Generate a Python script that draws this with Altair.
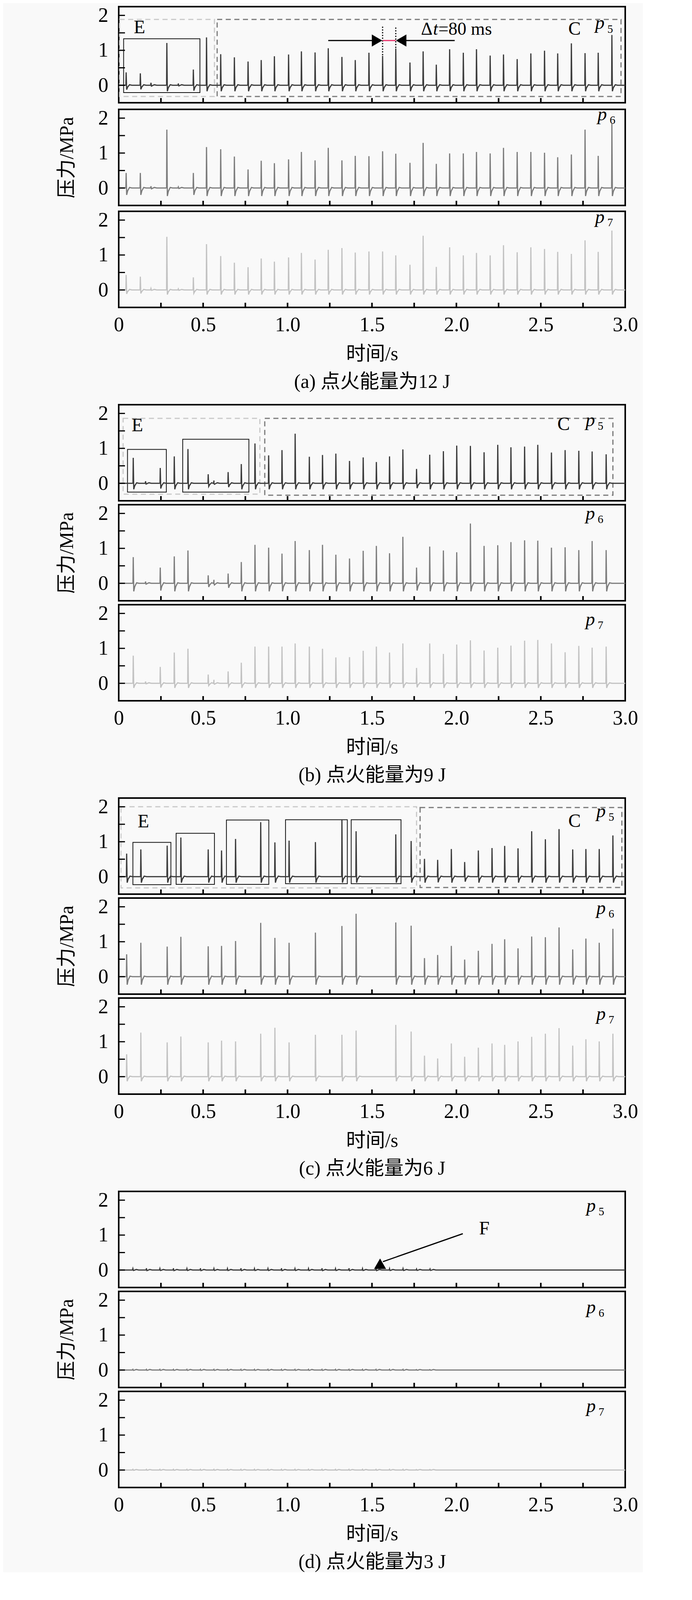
import altair as alt
import pandas as pd

FONT = "Liberation Serif, Noto Sans CJK SC"
W, H = 1297, 246
XS = alt.Scale(domain=[0, 3], nice=False, zero=False)
YS = alt.Scale(domain=[-0.5, 2.25], nice=False, zero=False)

XLAB = [0, 0.5, 1.0, 1.5, 2.0, 2.5, 3.0]
XTICKS = [0.25, 0.5, 0.75, 1.0, 1.25, 1.5, 1.75, 2.0, 2.25, 2.5, 2.75]
YTICKS = [0, 0.5, 1, 1.5, 2]
YLAB = [0, 1, 2]

# ---------------- data: spike times (s) and peak pressures (MPa) ----------------
A_T = [0.044, 0.128, 0.191, 0.285, 0.353, 0.442, 0.520, 0.604, 0.685, 0.766, 0.844, 0.922,
       1.006, 1.082, 1.163, 1.241, 1.322, 1.401, 1.482, 1.563, 1.641, 1.725, 1.803, 1.881,
       1.960, 2.041, 2.119, 2.200, 2.279, 2.360, 2.441, 2.522, 2.600, 2.681, 2.762, 2.840, 2.921]
A_P5 = [0.37, 0.34, 0.07, 1.21, 0.05, 0.45, 1.37, 0.89, 0.80, 0.68, 0.72, 0.83,
        0.88, 0.97, 0.94, 1.06, 0.81, 0.72, 0.93, 0.84, 1.05, 0.65, 0.97, 0.59,
        1.03, 0.93, 1.03, 0.85, 0.88, 0.75, 0.91, 0.99, 0.91, 1.20, 0.92, 0.93, 1.44]
A_P6 = [0.43, 0.43, 0.05, 1.67, 0.03, 0.43, 1.17, 1.11, 0.90, 0.53, 0.78, 0.71,
        0.82, 1.03, 0.79, 1.15, 0.79, 0.92, 0.91, 1.05, 0.98, 0.72, 1.29, 0.69,
        0.99, 0.99, 1.03, 0.99, 1.15, 1.03, 1.03, 1.01, 0.88, 0.96, 1.67, 0.92, 1.84]
A_P7 = [0.43, 0.38, 0.04, 1.52, 0.03, 0.36, 1.31, 0.97, 0.78, 0.65, 0.90, 0.81,
        0.93, 1.06, 0.87, 1.15, 1.20, 1.07, 1.10, 1.10, 0.99, 0.72, 1.55, 0.66,
        1.22, 0.99, 1.06, 0.99, 1.28, 1.08, 1.22, 1.17, 1.09, 1.03, 1.42, 1.09, 1.70]

B_T = [0.086, 0.159, 0.246, 0.329, 0.410, 0.530, 0.564, 0.648, 0.726, 0.807, 0.888, 0.967,
       1.045, 1.129, 1.207, 1.286, 1.367, 1.448, 1.526, 1.604, 1.683, 1.764, 1.842, 1.923,
       2.002, 2.083, 2.164, 2.245, 2.323, 2.404, 2.482, 2.563, 2.644, 2.725, 2.804, 2.887]
B_P5 = [0.73, 0.06, 0.44, 0.77, 0.98, 0.26, 0.08, 0.32, 0.55, 1.14, 0.80, 0.95,
        1.42, 0.76, 0.81, 0.85, 0.64, 0.74, 0.61, 0.77, 0.97, 0.41, 0.82, 0.92,
        1.08, 1.07, 0.89, 1.10, 1.03, 1.05, 1.10, 0.88, 0.95, 0.93, 0.91, 0.83]
B_P6 = [0.75, 0.05, 0.45, 0.77, 0.94, 0.23, 0.10, 0.28, 0.61, 1.10, 1.02, 0.85,
        1.21, 0.95, 1.10, 0.82, 0.71, 0.93, 1.07, 0.86, 1.33, 0.45, 1.05, 0.94,
        0.89, 1.71, 1.07, 1.09, 1.18, 1.23, 1.22, 1.02, 1.03, 0.95, 1.21, 0.95]
B_P7 = [0.79, 0.05, 0.47, 0.88, 0.99, 0.25, 0.10, 0.34, 0.59, 1.05, 1.05, 1.05,
        1.14, 1.05, 0.99, 0.74, 0.75, 0.93, 1.05, 0.88, 1.14, 0.44, 1.14, 0.84,
        1.11, 1.23, 0.94, 1.02, 1.08, 1.22, 1.24, 1.14, 0.89, 1.07, 1.02, 1.05]

C_T = [0.047, 0.131, 0.287, 0.368, 0.530, 0.609, 0.692, 0.841, 0.925, 1.009, 1.165, 1.322,
       1.406, 1.641, 1.732, 1.811, 1.889, 1.970, 2.049, 2.130, 2.211, 2.286, 2.365, 2.446,
       2.527, 2.608, 2.689, 2.767, 2.846, 2.927]
C_P5 = [0.66, 0.78, 0.89, 1.12, 0.78, 0.75, 1.08, 1.56, 0.98, 1.03, 0.99, 1.64,
        1.30, 1.21, 1.02, 0.51, 0.48, 0.79, 0.42, 0.75, 0.82, 0.88, 0.81, 1.30,
        1.07, 1.36, 0.78, 0.79, 0.79, 1.18]
C_P6 = [0.64, 0.97, 0.86, 1.14, 0.87, 0.88, 1.02, 1.54, 1.11, 0.97, 1.26, 1.45,
        1.80, 1.55, 1.46, 0.53, 0.62, 0.88, 0.49, 0.74, 0.94, 1.07, 0.81, 1.15,
        1.13, 1.41, 0.78, 1.09, 0.97, 1.37]
C_P7 = [0.64, 1.26, 0.98, 1.15, 0.98, 1.03, 1.01, 1.23, 1.40, 0.98, 1.20, 1.20,
        1.32, 1.48, 1.29, 0.60, 0.52, 0.95, 0.57, 0.83, 0.95, 0.91, 1.01, 1.14,
        1.23, 1.39, 0.89, 1.07, 1.01, 1.23]

D_T = [0.084, 0.164, 0.244, 0.324, 0.404, 0.484, 0.564, 0.644, 0.724, 0.804, 0.884, 0.964,
       1.044, 1.124, 1.204, 1.284, 1.364, 1.444, 1.524, 1.604, 1.684, 1.764, 1.844]
D_P5 = [0.04, 0.05, 0.04, 0.05, 0.04, 0.05, 0.04, 0.04, 0.05, 0.04, 0.04, 0.05,
        0.04, 0.04, 0.05, 0.04, 0.05, 0.04, 0.05, 0.04, 0.04, 0.03, 0.03]
D_P6 = [0.02, 0.02, 0.02, 0.02, 0.02, 0.02, 0.02, 0.02, 0.02, 0.02, 0.02, 0.02,
        0.02, 0.02, 0.02, 0.02, 0.02, 0.02, 0.02, 0.02, 0.02, 0.01, 0.01]
D_P7 = [0.02, 0.02, 0.02, 0.02, 0.02, 0.02, 0.02, 0.02, 0.02, 0.02, 0.02, 0.02,
        0.02, 0.02, 0.02, 0.02, 0.02, 0.02, 0.02, 0.02, 0.02, 0.01, 0.01]

CAPTIONS = ["(a) 点火能量为12 J", "(b) 点火能量为9 J", "(c) 点火能量为6 J", "(d) 点火能量为3 J"]
SENSORS = ["5", "6", "7"]

# ---------------- styles / annotation positions ----------------
COLORS = ["#3a3a3a", "#7c7c7c", "#c2c2c2"]
UNDER = [0.17, 0.23, 0.13]
TICK_FS, TITLE_FS, ANN_FS = 52, 50, 48

P_LABEL = [  # (x of 'p', baseline of p, baseline of subscript) per panel
    [(2.822, 1.61, 1.50), (2.836, 1.94, 1.84), (2.822, 1.92, 1.82)],
    [(2.765, 1.63, 1.53), (2.765, 1.82, 1.72), (2.765, 1.66, 1.56)],
    [(2.829, 1.70, 1.60), (2.829, 1.79, 1.69), (2.829, 1.62, 1.52)],
    [(2.770, 1.67, 1.57), (2.770, 1.62, 1.52), (2.770, 1.66, 1.56)],
]
BOX_LIGHT = [[(0.005, 0.567, -0.32, 1.885)], [(0.026, 0.836, -0.31, 1.86)],
             [(0.013, 1.764, -0.32, 2.0)], []]
BOX_DARK = [[(0.583, 2.975, -0.32, 1.885)], [(0.865, 2.927, -0.34, 1.86)],
            [(1.785, 2.98, -0.31, 1.98)], []]
BOX_SOLID = [[(0.029, 0.481, -0.21, 1.33)],
             [(0.052, 0.282, -0.25, 0.97), (0.379, 0.771, -0.25, 1.26)],
             [(0.084, 0.309, -0.23, 0.98), (0.34, 0.567, -0.22, 1.24), (0.638, 0.889, -0.22, 1.62),
              (0.988, 1.354, -0.20, 1.63), (1.377, 1.672, -0.20, 1.63)],
             []]
LETTERS = [[(0.123, 1.65, "E"), (2.70, 1.60, "C")], [(0.11, 1.65, "E"), (2.635, 1.68, "C")],
           [(0.146, 1.57, "E"), (2.70, 1.58, "C")], []]


def wave(times, peaks, under):
    rows = [(0.0, 0.0)]
    for t, h in zip(times, peaks):
        u = under * min(1.0, h / 0.5)
        rows += [(t - 0.004, 0.0), (t - 0.0015, 0.012), (t, h), (t + 0.003, -u),
                 (t + 0.009, -0.4 * u), (t + 0.020, 0.015), (t + 0.034, 0.0)]
    rows.append((3.0, 0.0))
    df = pd.DataFrame(rows, columns=["t", "v"])
    return df.sort_values("t", kind="stable")


def make_panel(g, k, bottom):
    if bottom:
        xaxis = alt.Axis(values=XLAB, labelExpr="datum.value == 0 ? '0' : format(datum.value, '.1f')",
                         labelFont=FONT, labelFontSize=TICK_FS, labelPadding=19, labelFlush=False,
                         labelOverlap=False, labelColor="black", ticks=False, domain=False, grid=False,
                         title=["时间/s", CAPTIONS[g]], titleFont=FONT, titleFontSize=TITLE_FS,
                         titleFontWeight="normal", titleColor="black", titlePadding=24,
                         titleLineHeight=71)
        X = alt.X("t:Q", scale=XS, axis=xaxis)
    else:
        X = alt.X("t:Q", scale=XS, axis=None)
    yaxis = alt.Axis(values=YLAB, labelFont=FONT, labelFontSize=TICK_FS, labelPadding=27,
                     labelColor="black", ticks=False, domain=False, grid=False,
                     title="压力/MPa" if k == 1 else "", titleFont=FONT, titleFontSize=TITLE_FS,
                     titleFontWeight="normal", titleColor="black", titlePadding=55)
    Y = alt.Y("v:Q", scale=YS, axis=yaxis)

    times = [A_T, B_T, C_T, D_T][g]
    peaks = [[A_P5, A_P6, A_P7], [B_P5, B_P6, B_P7], [C_P5, C_P6, C_P7], [D_P5, D_P6, D_P7]][g][k]

    layers = []
    if k == 0:
        for boxes, col, sw, dash in [(BOX_LIGHT[g], "#c9c9c9", 3, [13, 9]),
                                     (BOX_DARK[g], "#7a7a7a", 3, [13, 9]),
                                     (BOX_SOLID[g], "#111111", 2, None)]:
            if not boxes:
                continue
            mk = dict(fillOpacity=0, stroke=col, strokeWidth=sw)
            if dash:
                mk["strokeDash"] = dash
            bdf = pd.DataFrame(boxes, columns=["t", "t2", "v", "v2"])
            layers.append(alt.Chart(bdf).mark_rect(**mk).encode(
                x=X, x2=alt.X2("t2:Q"), y=Y, y2=alt.Y2("v2:Q")))

    layers.append(alt.Chart(wave(times, peaks, UNDER[k])).mark_line(
        color=COLORS[k], strokeWidth=3, clip=True).encode(x=X, y=Y))

    layers.append(alt.Chart(pd.DataFrame({"t": XTICKS})).mark_rule(
        color="black", strokeWidth=4).encode(x=X, y=alt.value(H), y2=alt.value(H - 12)))
    layers.append(alt.Chart(pd.DataFrame({"v": YTICKS})).mark_rule(
        color="black", strokeWidth=3).encode(y=Y, x=alt.value(0), x2=alt.value(16)))

    if k == 0 and LETTERS[g]:
        ldf = pd.DataFrame(LETTERS[g], columns=["t", "v", "s"])
        layers.append(alt.Chart(ldf).mark_text(font=FONT, fontSize=ANN_FS, color="black",
                                               align="center", baseline="middle").encode(
            x=X, y=Y, text="s:N"))

    px, pb, sb = P_LABEL[g][k]
    layers.append(alt.Chart(pd.DataFrame({"t": [px], "v": [pb], "s": ["p"]})).mark_text(
        font=FONT, fontSize=ANN_FS, fontStyle="italic", color="black", align="left",
        baseline="alphabetic").encode(x=X, y=Y, text="s:N"))
    layers.append(alt.Chart(pd.DataFrame({"t": [px + 0.072], "v": [sb], "s": [SENSORS[k]]})).mark_text(
        font=FONT, fontSize=29, color="black", align="left",
        baseline="alphabetic").encode(x=X, y=Y, text="s:N"))

    if g == 0 and k == 0:
        # delta-t annotation
        dots = pd.DataFrame({"t": [1.563, 1.641], "v": [0.86, 1.07], "v2": [1.68, 1.68]})
        layers.append(alt.Chart(dots).mark_rule(color="black", strokeWidth=3,
                                                strokeDash=[3, 4]).encode(
            x=X, y=Y, y2=alt.Y2("v2:Q")))
        arr = pd.DataFrame({"t": [1.241, 1.70], "t2": [1.50, 1.99], "v": [1.28, 1.28]})
        layers.append(alt.Chart(arr).mark_rule(color="black", strokeWidth=3).encode(
            x=X, x2=alt.X2("t2:Q"), y=Y))
        red = pd.DataFrame({"t": [1.563], "t2": [1.641], "v": [1.28]})
        layers.append(alt.Chart(red).mark_rule(color="#e8336b", strokeWidth=3).encode(
            x=X, x2=alt.X2("t2:Q"), y=Y))
        layers.append(alt.Chart(pd.DataFrame({"t": [1.530], "v": [1.28]})).mark_point(
            shape="triangle-right", size=950, filled=True, color="black", opacity=1).encode(x=X, y=Y))
        layers.append(alt.Chart(pd.DataFrame({"t": [1.673], "v": [1.28]})).mark_point(
            shape="triangle-left", size=950, filled=True, color="black", opacity=1).encode(x=X, y=Y))
        for tx, txt, style in [(1.79, "Δ", "normal"), (1.862, "t", "italic"), (1.893, "=80 ms", "normal")]:
            layers.append(alt.Chart(pd.DataFrame({"t": [tx], "v": [1.44], "s": [txt]})).mark_text(
                font=FONT, fontSize=46, fontStyle=style, color="black", align="left",
                baseline="alphabetic").encode(x=X, y=Y, text="s:N"))

    if g == 3 and k == 0:
        fl = pd.DataFrame({"t": [2.038], "t2": [1.565], "v": [1.04], "v2": [0.24]})
        layers.append(alt.Chart(fl).mark_rule(color="black", strokeWidth=3).encode(
            x=X, x2=alt.X2("t2:Q"), y=Y, y2=alt.Y2("v2:Q")))
        layers.append(alt.Chart(pd.DataFrame({"t": [1.548], "v": [0.18]})).mark_point(
            shape="triangle-up", size=950, filled=True, color="black", opacity=1).encode(x=X, y=Y))
        layers.append(alt.Chart(pd.DataFrame({"t": [2.165], "v": [1.18], "s": ["F"]})).mark_text(
            font=FONT, fontSize=ANN_FS, color="black", align="center", baseline="middle").encode(
            x=X, y=Y, text="s:N"))

    return alt.layer(*layers).properties(width=W, height=H)


groups = []
for g in range(4):
    panels = [make_panel(g, k, k == 2) for k in range(3)]
    groups.append(alt.vconcat(*panels, spacing=0))

chart = alt.vconcat(*groups, spacing=26).properties(
    padding={"left": 136, "top": 3, "right": 10, "bottom": 0},
    background="#f9f9f9",
).configure_view(stroke="black", strokeWidth=4)

chart.save("out.html", embed_options={"renderer": "svg", "actions": False})
